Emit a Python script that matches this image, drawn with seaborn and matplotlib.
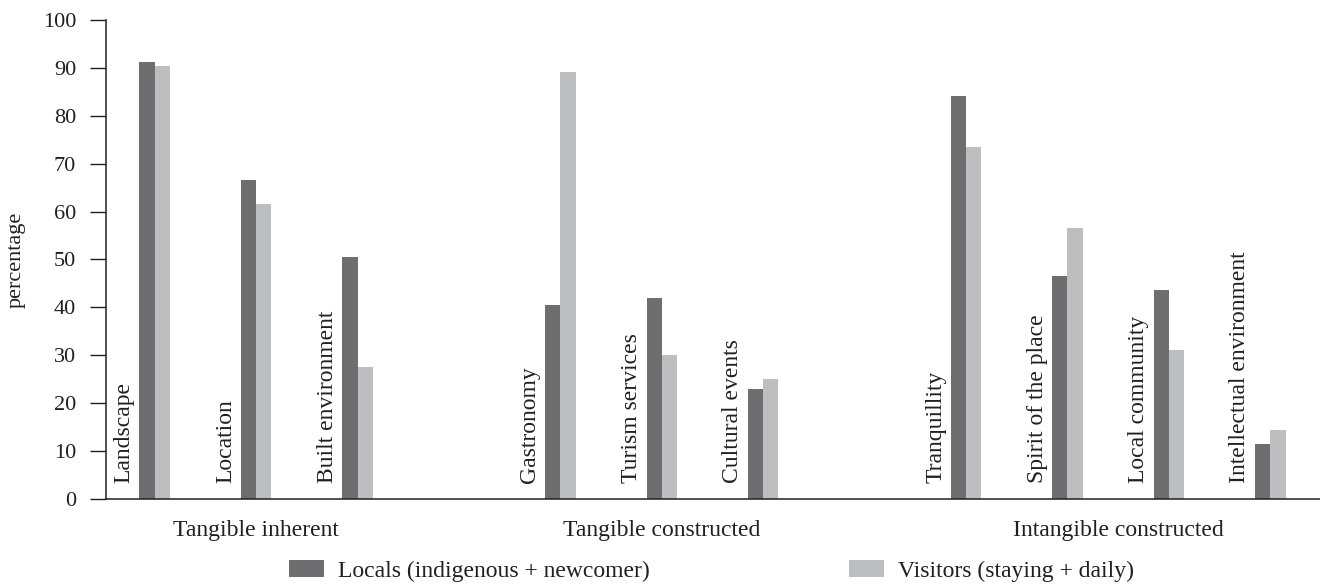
import pandas as pd
import matplotlib
matplotlib.use('Agg')
import matplotlib.pyplot as plt
import seaborn as sns

groups = ['Tangible inherent', 'Tangible constructed', 'Intangible constructed']
items = ['Landscape', 'Location', 'Built environment',
         'Gastronomy', 'Turism services', 'Cultural events',
         'Tranquillity', 'Spirit of the place', 'Local community', 'Intellectual environment']
item_group = [0, 0, 0, 1, 1, 1, 2, 2, 2, 2]
locals_pct = [91.2, 66.5, 50.5, 40.6, 42.0, 23.0, 84.2, 46.5, 43.6, 11.5]
visitors_pct = [90.4, 61.6, 27.6, 89.1, 30.1, 25.0, 73.5, 56.6, 31.2, 14.4]
series = ['Locals (indigenous + newcomer)', 'Visitors (staying + daily)']
colors = ['#6d6e71', '#bcbec0']
text_color = '#231f20'

# one empty slot between groups
pos = [i + g for i, g in enumerate(item_group)]

df = pd.DataFrame({
    'pos': pos * 2,
    'pct': locals_pct + visitors_pct,
    'series': [series[0]] * len(items) + [series[1]] * len(items),
})

sns.set_theme(style='white')
plt.rcParams['font.family'] = ['Liberation Serif', 'DejaVu Serif']
plt.rcParams['text.color'] = text_color
plt.rcParams['axes.labelcolor'] = text_color
plt.rcParams['xtick.color'] = text_color
plt.rcParams['ytick.color'] = text_color

fig = plt.figure(figsize=(13.2, 5.88), dpi=100)
ax = fig.add_axes([0.0803, 0.1514, 0.9197, 0.8146])

sns.barplot(data=df, x='pos', y='pct', hue='series', native_scale=True,
            width=0.3, palette=colors, errorbar=None, linewidth=0, ax=ax)

ax.set_xlim(-0.48, 11.49)
ax.set_ylim(0, 100)
ax.set_yticks(range(0, 101, 10))
ax.set_xticks([])
ax.set_xlabel('')
ax.set_ylabel('percentage', fontsize=16)
ax.yaxis.set_label_coords(-0.066, 0.5)
ax.tick_params(axis='y', labelsize=16, length=11.5, width=1.0, pad=10, left=True, direction='out')

for side in ['top', 'right']:
    ax.spines[side].set_visible(False)
for side in ['left', 'bottom']:
    ax.spines[side].set_color(text_color)
    ax.spines[side].set_linewidth(1.1)

for p, name in zip(pos, items):
    ax.text(p - 0.3, 3.3, name, rotation=90, ha='center', va='bottom', fontsize=17)

for g, gname in enumerate(groups):
    members = [p for p, ig in zip(pos, item_group) if ig == g]
    centre = (members[0] + members[-1]) / 2
    ax.text(centre, -0.065, gname, transform=ax.get_xaxis_transform(),
            ha='center', va='center', fontsize=17)

sns.move_legend(ax, 'center', bbox_to_anchor=(0.4988, -0.150), ncol=2, frameon=False,
                title=None, fontsize=17, handlelength=1.48, handleheight=0.7,
                columnspacing=8.4, handletextpad=0.6)

fig.savefig('out.png', dpi=100)
